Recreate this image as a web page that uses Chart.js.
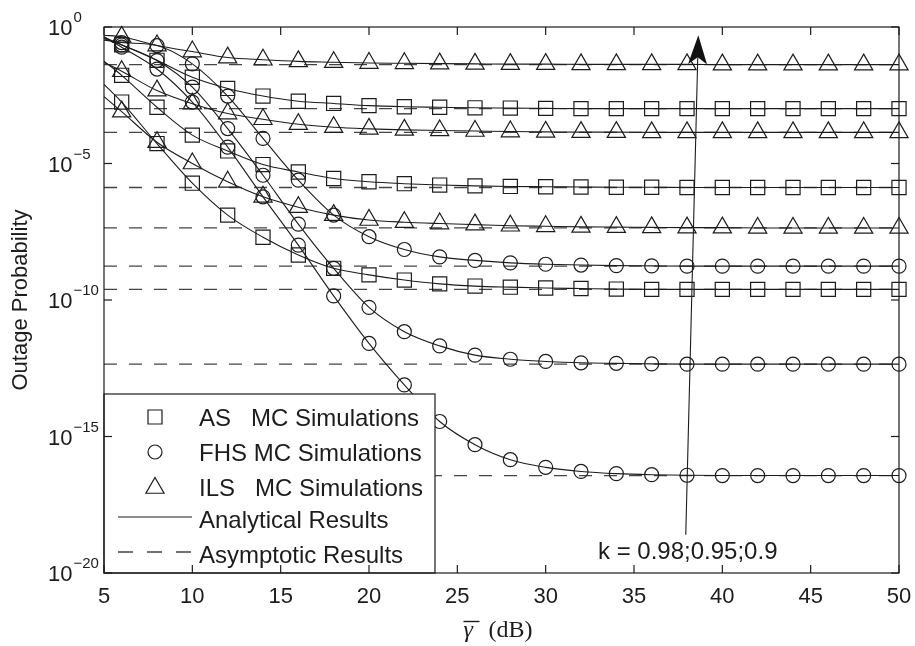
<!DOCTYPE html>
<html>
<head>
<meta charset="utf-8">
<script src="https://cdn.jsdelivr.net/npm/chart.js@4.4.1/dist/chart.umd.min.js"></script>
<style>
  html, body { margin: 0; padding: 0; background: #fff; }
  canvas { display: block; }
</style>
</head>
<body>
<canvas id="outageChart" width="915" height="646"></canvas>
<script>
// SNR grid in dB: analytical curves start at 5 dB, MC markers every 2 dB from 6 dB
const snrDb = [5, 6, 8, 10, 12, 14, 16, 18, 20, 22, 24, 26, 28, 30, 32, 34, 36, 38, 40, 42, 44, 46, 48, 50];

// log10(outage probability)
const asK090 = [-0.38, -0.65, -1.22, -1.84, -2.25, -2.53, -2.72, -2.80, -2.88, -2.92, -2.94, -2.96, -2.97, -2.98, -2.99, -2.99, -2.99, -2.99, -2.99, -2.99, -2.99, -2.99, -2.99, -2.99];
const asK095 = [-1.25, -1.77, -2.94, -3.96, -4.54, -5.04, -5.31, -5.55, -5.67, -5.74, -5.79, -5.82, -5.84, -5.85, -5.86, -5.87, -5.87, -5.88, -5.88, -5.88, -5.88, -5.88, -5.88, -5.88];
const asK098 = [-2.10, -2.75, -4.27, -5.72, -6.89, -7.70, -8.35, -8.84, -9.08, -9.27, -9.41, -9.49, -9.53, -9.56, -9.58, -9.60, -9.61, -9.61, -9.61, -9.61, -9.61, -9.61, -9.61, -9.61];
const fhsK090 = [-0.48, -0.57, -0.68, -1.35, -2.53, -4.08, -5.61, -6.89, -7.68, -8.15, -8.42, -8.55, -8.64, -8.69, -8.72, -8.74, -8.75, -8.76, -8.76, -8.76, -8.76, -8.76, -8.76, -8.76];
const fhsK095 = [-0.42, -0.66, -1.23, -2.20, -3.72, -5.43, -7.22, -8.84, -10.27, -11.16, -11.68, -12.02, -12.17, -12.25, -12.30, -12.32, -12.34, -12.35, -12.35, -12.35, -12.35, -12.35, -12.35, -12.35];
const fhsK098 = [-0.36, -0.74, -1.54, -2.75, -4.40, -6.22, -7.99, -9.85, -11.59, -13.11, -14.45, -15.30, -15.85, -16.13, -16.28, -16.36, -16.40, -16.42, -16.43, -16.43, -16.43, -16.43, -16.43, -16.43];
const ilsK090 = [-0.30, -0.36, -0.68, -0.90, -1.12, -1.20, -1.26, -1.29, -1.32, -1.33, -1.34, -1.35, -1.36, -1.36, -1.37, -1.37, -1.37, -1.37, -1.38, -1.38, -1.38, -1.38, -1.38, -1.38];
const ilsK095 = [-1.30, -1.62, -2.33, -2.81, -3.17, -3.38, -3.56, -3.67, -3.73, -3.77, -3.79, -3.81, -3.83, -3.84, -3.85, -3.85, -3.86, -3.86, -3.86, -3.86, -3.86, -3.86, -3.86, -3.86];
const ilsK098 = [-2.55, -3.10, -4.22, -5.00, -5.67, -6.22, -6.60, -6.89, -7.07, -7.15, -7.20, -7.24, -7.28, -7.30, -7.32, -7.33, -7.34, -7.35, -7.35, -7.36, -7.36, -7.36, -7.36, -7.36];

// asymptotic error floors (log10), k = 0.9, 0.95, 0.98
const asymAS = [-2.99, -5.88, -9.61];
const asymFHS = [-8.76, -12.35, -16.43];
const asymILS = [-1.38, -3.86, -7.36];

const xTickVals = [5, 10, 15, 20, 25, 30, 35, 40, 45, 50];
const xTickLabels = ['5', '10', '15', '20', '25', '30', '35', '40', '45', '50'];
const yTickVals = [0, -5, -10, -15, -20];
const yTickExps = ['0', '\u22125', '\u221210', '\u221215', '\u221220'];

const legendLabels = ['AS   MC Simulations', 'FHS MC Simulations', 'ILS   MC Simulations', 'Analytical Results', 'Asymptotic Results'];
const kLabel = 'k = 0.98;0.95;0.9';
const arrowTail = [37.93, -18.6];
const arrowTip = [38.64, -0.30];

const INK = '#1c1c1c';
const SANS = '"Liberation Sans", Arial, Helvetica, sans-serif';
const SERIF = '"Liberation Serif", "Times New Roman", serif';

function toPoints(logs) {
    return logs.map((v, i) => ({ x: snrDb[i], y: Math.pow(10, v) }));
}

function curve(logs, style, radius) {
    return {
        data: toPoints(logs),
        borderColor: INK, borderWidth: 1.1,
        cubicInterpolationMode: 'monotone',
        pointStyle: style,
        pointRadius: (c) => c.dataIndex === 0 ? 0 : radius,
        pointBorderColor: INK, pointBorderWidth: 1.2,
        pointBackgroundColor: 'rgba(0,0,0,0)',
        clip: false, order: 1
    };
}

function floorLine(v) {
    return {
        data: [{ x: 5, y: Math.pow(10, v) }, { x: 50, y: Math.pow(10, v) }],
        borderColor: '#444', borderWidth: 1.3, borderDash: [13, 12],
        pointRadius: 0, order: 2
    };
}

const datasets = [
    curve(asK090, 'rect', 10), curve(asK095, 'rect', 10), curve(asK098, 'rect', 10),
    curve(fhsK090, 'circle', 7), curve(fhsK095, 'circle', 7), curve(fhsK098, 'circle', 7),
    curve(ilsK090, 'triangle', 10.5), curve(ilsK095, 'triangle', 10.5), curve(ilsK098, 'triangle', 10.5)
];
asymAS.concat(asymFHS, asymILS).forEach(v => datasets.push(floorLine(v)));

function seg(ctx, x1, y1, x2, y2) {
    ctx.beginPath(); ctx.moveTo(x1, y1); ctx.lineTo(x2, y2); ctx.stroke();
}

function marker(ctx, style, x, y) {
    ctx.beginPath();
    if (style === 'rect') { ctx.rect(x - 7, y - 7, 14, 14); }
    else if (style === 'circle') { ctx.arc(x, y, 7, 0, Math.PI * 2); }
    else {
        const r = 10.5;
        ctx.moveTo(x, y - r);
        ctx.lineTo(x + r * 0.866, y + r * 0.5);
        ctx.lineTo(x - r * 0.866, y + r * 0.5);
        ctx.closePath();
    }
    ctx.stroke();
}

const decorations = {
    id: 'decorations',
    afterDatasetsDraw(chart) {
        const { ctx, chartArea: a, scales: { x, y } } = chart;
        ctx.save();

        // arrow with k annotation
        const t0 = { x: x.getPixelForValue(arrowTail[0]), y: y.getPixelForValue(Math.pow(10, arrowTail[1])) };
        const t1 = { x: x.getPixelForValue(arrowTip[0]), y: y.getPixelForValue(Math.pow(10, arrowTip[1])) };
        const len = Math.hypot(t1.x - t0.x, t1.y - t0.y);
        const dx = (t1.x - t0.x) / len, dy = (t1.y - t0.y) / len;
        const nx = -dy, ny = dx;
        const bx = t1.x - dx * 29, by = t1.y - dy * 29;
        const kx = t1.x - dx * 22, ky = t1.y - dy * 22;
        ctx.strokeStyle = INK; ctx.lineWidth = 1.1;
        seg(ctx, t0.x, t0.y, kx, ky);
        ctx.fillStyle = '#111';
        ctx.beginPath();
        ctx.moveTo(t1.x, t1.y);
        ctx.lineTo(bx + nx * 9.5, by + ny * 9.5);
        ctx.lineTo(kx, ky);
        ctx.lineTo(bx - nx * 9.5, by - ny * 9.5);
        ctx.closePath(); ctx.fill();

        ctx.fillStyle = INK;
        ctx.font = '24px ' + SANS;
        ctx.textAlign = 'left'; ctx.textBaseline = 'alphabetic';
        ctx.fillText(kLabel, 598, 559);

        // legend box, bottom-left inside the axes
        const lx = a.left, ly = 394, lw = 435 - a.left, lh = a.bottom - 394;
        ctx.fillStyle = '#fff';
        ctx.fillRect(lx, ly, lw, lh);
        ctx.strokeStyle = INK; ctx.lineWidth = 1.2;
        ctx.strokeRect(lx, ly, lw, lh);
        const rows = [417, 452, 487, 519, 554];
        ctx.lineWidth = 1.2;
        marker(ctx, 'rect', 155, rows[0]);
        marker(ctx, 'circle', 155, rows[1]);
        marker(ctx, 'triangle', 155, rows[2] + 1);
        ctx.lineWidth = 1.1;
        seg(ctx, 118, rows[3] - 2, 192, rows[3] - 2);
        ctx.strokeStyle = '#444'; ctx.lineWidth = 1.3;
        ctx.setLineDash([15, 14]);
        seg(ctx, 118, rows[4] - 2, 192, rows[4] - 2);
        ctx.setLineDash([]);
        ctx.fillStyle = INK;
        ctx.font = '24px ' + SANS;
        legendLabels.forEach((t, i) => ctx.fillText(t, 199, rows[i] + 8.6));

        // axes box and inward ticks on all four sides
        ctx.strokeStyle = INK; ctx.lineWidth = 1.2;
        ctx.strokeRect(a.left, a.top, a.right - a.left, a.bottom - a.top);
        xTickVals.forEach(v => {
            const px = x.getPixelForValue(v);
            seg(ctx, px, a.bottom, px, a.bottom - 8);
            seg(ctx, px, a.top, px, a.top + 8);
        });
        yTickVals.forEach(v => {
            const py = y.getPixelForValue(Math.pow(10, v));
            seg(ctx, a.left, py, a.left + 8, py);
            seg(ctx, a.right, py, a.right - 8, py);
        });

        // tick labels
        ctx.fillStyle = INK;
        ctx.font = '22px ' + SANS;
        ctx.textAlign = 'center';
        xTickVals.forEach((v, i) => ctx.fillText(xTickLabels[i], x.getPixelForValue(v), 603));
        ctx.textAlign = 'left';
        yTickVals.forEach((v, i) => {
            const py = y.getPixelForValue(Math.pow(10, v));
            ctx.font = '22px ' + SANS;
            ctx.fillText('10', 48, py + 8);
            const w = ctx.measureText('10').width;
            ctx.font = '15px ' + SANS;
            ctx.fillText(yTickExps[i], 48 + w + 1, py - 4.6);
        });

        // axis titles
        ctx.font = '22px ' + SANS;
        ctx.textAlign = 'center'; ctx.textBaseline = 'middle';
        ctx.translate(21, (a.top + a.bottom) / 2);
        ctx.rotate(-Math.PI / 2);
        ctx.fillText('Outage Probability', 0, 0);
        ctx.setTransform(1, 0, 0, 1, 0, 0);

        const cx = (a.left + a.right) / 2;
        ctx.textAlign = 'left'; ctx.textBaseline = 'alphabetic';
        ctx.font = 'italic 24px ' + SERIF;
        ctx.fillText('\u03b3', cx - 38, 637);
        ctx.font = '24px ' + SERIF;
        ctx.fillText('(dB)', cx - 13, 637);
        ctx.lineWidth = 1.4;
        seg(ctx, cx - 38, 621.5, cx - 22, 621.5);

        ctx.restore();
    }
};

new Chart(document.getElementById('outageChart'), {
    type: 'line',
    data: { datasets: datasets },
    options: {
        responsive: false,
        animation: false,
        devicePixelRatio: 1,
        layout: { padding: { left: 104, right: 16, top: 27, bottom: 73 } },
        plugins: { legend: { display: false }, tooltip: { enabled: false } },
        scales: {
            x: { type: 'linear', min: 5, max: 50, display: false },
            y: { type: 'logarithmic', min: 1e-20, max: 1, display: false }
        }
    },
    plugins: [decorations]
});
</script>
</body>
</html>
